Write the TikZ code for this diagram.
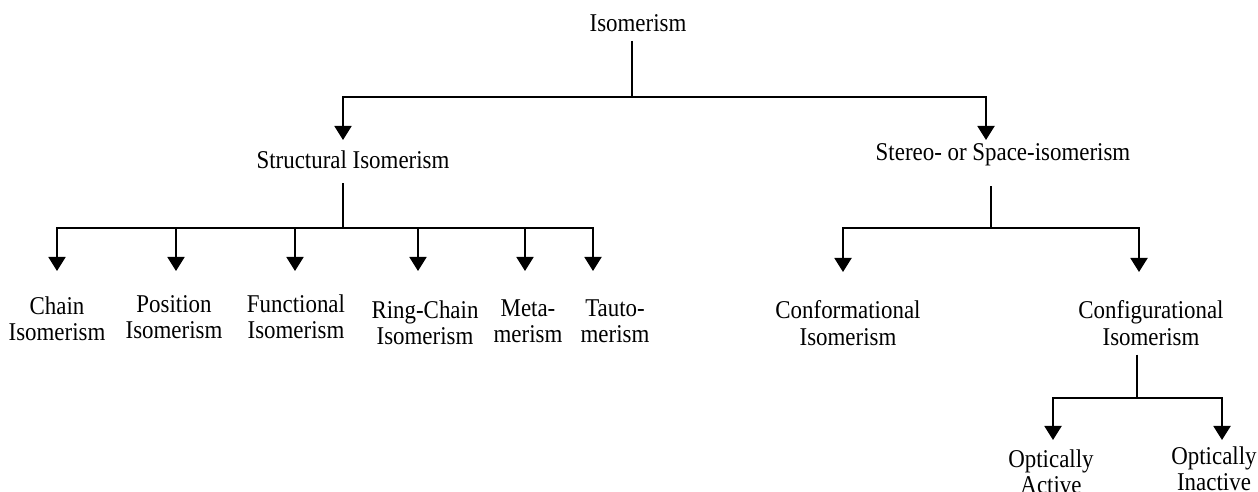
\documentclass[tikz,border=0pt]{standalone}
\usepackage{fontspec}
\setmainfont{Liberation Serif}[FakeStretch=0.895]
\usetikzlibrary{arrows.meta}
\begin{document}
\begin{tikzpicture}[x=1bp,y=-1bp,
  lbl/.style={font=\fontsize{25.7}{26.5}\selectfont, align=center, inner sep=0pt},
  conn/.style={line width=1.9bp},
  arr/.style={conn, -{Triangle[width=17bp,length=14bp]}}]
\useasboundingbox (0,0) rectangle (1258,492);
% nodes
\node[lbl] (iso)    at (638,23)  {Isomerism};
\node[lbl] (struct) at (353,160) {Structural Isomerism};
\node[lbl] (stereo) at (1003,155) {Stereo- or Space-isomerism};
\node[lbl] (chain)  at (57,319)  {Chain\\Isomerism};
\node[lbl] (pos)    at (174,317) {Position\\Isomerism};
\node[lbl] (func)   at (296,317) {Functional\\Isomerism};
\node[lbl] (ring)   at (425,323) {Ring-Chain\\Isomerism};
\node[lbl] (meta)   at (528,321) {Meta-\\merism};
\node[lbl] (tauto)  at (615,321) {Tauto-\\merism};
\node[lbl] (conf)   at (848,323) {Conformational\\Isomerism};
\node[lbl] (config) at (1151,323) {Configurational\\Isomerism};
\node[lbl] (opta)   at (1051,472) {Optically\\Active};
\node[lbl] (opti)   at (1214,469) {Optically\\Inactive};
% junctions and arrow tips
\coordinate (j0) at (632,97);
\coordinate (tS) at (343,140);
\coordinate (tR) at (986,140);
\coordinate (j1) at (343,228);
\coordinate (t1) at (57,271);
\coordinate (t2) at (176,271);
\coordinate (t3) at (295,271);
\coordinate (t4) at (418,271);
\coordinate (t5) at (525,271);
\coordinate (t6) at (593,271);
\coordinate (j2) at (991,228);
\coordinate (t7) at (843,272);
\coordinate (t8) at (1139,272);
\coordinate (j3) at (1137,398);
\coordinate (t9) at (1053,440);
\coordinate (t10) at (1222,440);
% connectors
\draw[conn] (iso.south -| j0) ++(0,9) -- (j0);
\draw[arr] (j0) -| (tS);
\draw[arr] (j0) -| (tR);
\draw[conn] (struct.south -| j1) ++(0,14) -- (j1);
\foreach \t in {t1,t2,t3,t4,t5,t6} \draw[arr] (j1) -| (\t);
\draw[conn] (stereo.south -| j2) ++(0,20) -- (j2);
\draw[arr] (j2) -| (t7);
\draw[arr] (j2) -| (t8);
\draw[conn] (config.south -| j3) ++(0,9) -- (j3);
\draw[arr] (j3) -| (t9);
\draw[arr] (j3) -| (t10);
\end{tikzpicture}
\end{document}
